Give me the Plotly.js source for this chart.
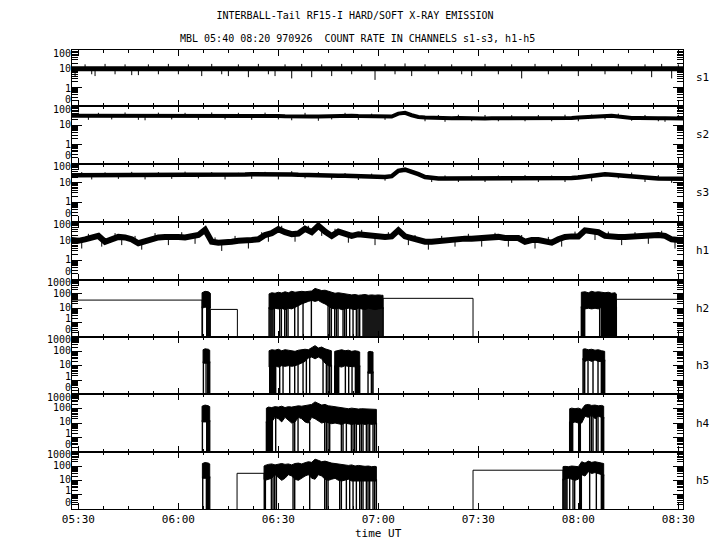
<!DOCTYPE html>
<html><head><meta charset="utf-8">
<script src="https://cdn.plot.ly/plotly-3.0.1.min.js"></script>
<style>html,body{margin:0;padding:0;background:#fff}</style>
</head><body>
<div id="chart" style="width:720px;height:550px"></div>
<script>
// ---------------- DATA (time in minutes after 05:30 UT) ----------------
const channels = ['s1','s2','s3','h1','h2','h3','h4','h5'];
const timeTicks = [0,30,60,90,120,150,180];
const timeLabels = ['05:30','06:00','06:30','07:00','07:30','08:00','08:30'];
const timeMinor = [7.5,15,22.5,37.5,45,52.5,67.5,75,82.5,97.5,105,112.5,127.5,135,142.5,157.5,165,172.5];
const sTickVals = [0.1,1,10,100];
const hTickVals = [0.1,1,10,100,1000];
const sTickText = ['0','1','10','100'];
const hTickText = ['0','1','10','100','1000'];

// 2-minute grid for the continuous channels
const T = [-2,0,2,4,6,8,10,12,14,16,
  18,20,22,24,26,28,30,32,34,36,
  38,40,42,44,46,48,50,52,54,56,
  58,60,62,64,66,68,70,72,74,76,
  78,80,82,84,86,88,90,92,94,96,
  98,100,102,104,106,108,110,112,114,116,
  118,120,122,124,126,128,130,132,134,136,
  138,140,142,144,146,148,150,152,154,156,
  158,160,162,164,166,168,170,172,174,176,
  178,180,182];

const s1 = [10,10,10,9.5,10,10,10.5,10,10,9.5,
  10,10,10,10.5,10,10,10,9.5,10,10,
  10.5,10,10,10,10,9.5,10,10,10,10.5,
  10,10,10,9.5,9.5,10,10,10.5,10,10,
  10,9.5,9.5,10,10.5,10,10,10,10,10,
  11,10.5,10,10,9.5,10,10,10,9.5,10,
  10,10,10,9.5,10,10,10,10,10.5,10,
  10,10,9.5,10,10,10,10,10,10.5,10.5,
  10,10,10,10,9.5,10,10,10,10,10,
  9.5,10,10];
const s1SpikeT = [-1,2,4,5,8,11,14,16,18,21,24,27,30,33,37,40,43,45,48,51,54,57,59,62,64,67,70,73,76,79,
  82,85,89,92,95,98,100,104,108,112,115,118,122,126,130,133,137,141,145,150,154,158,162,166,170,172,175,178,180];
const s1SpikeV = [4,17,5,4,18,5,17,4.5,4.5,17,5,18,5,17,4,18,5,4,17,3.5,18,5,4,17,3,18,3.5,17,4,18,
  5,17,2.5,18,5,19,4,17,5,17,5,4,18,5,17,3,18,5,17,4,18,5,18,5,17,3.5,18,3,17];

const s2 = [31,31,32,31,31,30,31,32,31,31,
  31,30,31,31,32,31,31,30,31,32,
  31,31,32,33,32,31,31,32,32,31,
  31,30,29,28,28,29,28,28,29,29,
  30,30,31,30,29,28,27,27,28,40,
  44,33,27,25,24,23,23,23,24,23,
  23,23,22,23,23,23,24,23,23,22,
  23,23,22,23,24,24,25,26,27,28,
  30,31,28,25,24,24,23,23,23,23,
  23,22,22];
const s2SpikeT = [0,3,6,10,14,18,20,24,28,32,36,40,44,48,52,56,60,64,68,72,76,80,84,88,92,100,104,108,110,114,
  118,122,126,130,134,138,142,146,150,154,158,162,166,170,174,176,180];
const s2SpikeV = [45,19,44,20,46,19,18,45,20,44,19,46,20,44,19,45,20,18,44,17,20,44,19,40,19,35,16,34,15,35,
  16,34,16,33,16,34,16,35,16,36,20,40,17,34,16,15,34];

const s3 = [25,25,24,25,25,24,25,25,24,25,
  24,24,25,24,24,25,25,25,25,26,
  25,25,26,26,26,26,27,28,28,30,
  30,29,28,27,26,25,25,25,24,24,
  23,23,22,21,21,20,20,20,22,42,
  48,38,28,20,18,17,17,17,17,17,
  17,17,17,17,17,16,17,17,17,17,
  17,17,17,17,17,18,19,21,24,27,
  28,26,25,24,23,22,20,18,17,17,
  17,17,16];
const s3SpikeT = [1,4,8,12,16,20,24,28,32,36,40,44,48,52,56,60,64,68,72,76,80,84,88,92,102,106,110,114,118,122,
  126,130,134,138,142,146,150,154,158,162,166,170,174,178];
const s3SpikeV = [36,15,35,16,37,15,36,16,38,17,36,15,33,16,37,15,40,17,36,15,32,14,30,13,25,11,24,11,25,11,
  24,10,25,11,24,11,25,12,36,17,34,11,25,10];

const h1 = [11,10,12,15,18,9,12,16,15,12,
  7.5,10,13,15,16,17,16,15,16,20,
  37,9,8,8,9,10,10,11,12,20,
  25,40,28,22,24,42,28,60,30,18,
  30,22,18,22,20,17,16,16,17,35,
  17,13,10,9,9,10,11,12,12,13,
  13,14,15,15,16,14,15,14,9,11,
  11,10,8,12,16,17,17,35,30,28,
  18,16,16,16,17,16,17,19,20,18,
  12,11,11];
const h1SpikeT = [1,3,7,11,13,17,19,23,27,31,35,41,43,47,51,55,57,61,65,69,73,77,81,85,89,93,99,101,105,109,
  113,117,121,125,129,133,137,141,145,149,155,159,163,167,171,175,179];
const h1SpikeV = [4,23,5,25,6,18,3.5,25,6,28,7,15,3,18,4,28,9,60,9,60,18,42,8,37,6,28,6,20,3.5,18,
  5,23,5,26,5,20,4,16,5,30,11,30,6,28,7,33,4];

// bursty channels: band envelope (null separates bursts), drop-outs to 0, flat gap segments
const h2BandT  = [37.1,38,39,39.6,null,
  57.2,58,59,60,61,62,63,64,65,66,67,68,69,70,71,72,73,74,75,76,77,78,79,80,81,82,83,84,85,86,87,88,89,90,91,91.4,null,
  150.9,152,153,154,155,156,157,158,159,160,161,161.4];
const h2BandHi = [120,150,140,110,null,
  100,120,110,130,115,140,120,150,130,140,150,140,150,160,240,200,170,180,150,130,110,120,110,100,90,85,90,80,85,90,80,85,80,85,80,80,null,
  130,140,120,150,130,140,130,120,130,110,120,100];
const h2BandLo = [10,12,10,10,null,
  9,8,10,9,10,8,10,9,12,15,20,25,30,35,30,35,25,20,15,10,9,10,8,9,10,9,8,10,9,8,10,9,8,9,10,9,null,
  10,9,10,9,10,9,12,10,9,10,10,10];
const h2Drop = [37.2,38.5,38.8,39.1,39.4,
  57.2,57.5,57.8,58.1,58.4,58.8,60.4,60.9,61.9,62.4,62.9,64.9,65.9,67.4,69.9,74.9,75.4,75.9,76.9,77.4,77.9,79.4,79.9,80.4,81.4,82.4,83.4,83.9,84.4,
  85.4,85.7,86,86.3,86.6,86.9,87.2,87.5,87.8,88.1,88.4,88.7,89,89.3,89.6,89.9,90.2,90.5,90.8,91.1,91.4,
  150.9,151.2,151.5,151.9,156.4,156.9,157.2,157.5,157.8,158.1,158.4,158.7,159,159.3,159.6,159.9,160.2,160.5,160.8,161.1,161.4];
const h2GapStart = [-2,39.6,91.4,161.4];
const h2GapEnd   = [37.1,47.7,118.4,182];
const h2GapVal   = [37,8.3,49,42];

const h3BandT  = [37.4,38,39,39.4,null,
  57.2,58,59,60,61,62,63,64,65,66,67,68,69,70,71,72,73,74,75,75.9,null,
  76.9,78,79,80,81,82,83,84,84.4,null,
  86.9,87.5,88,88.4,null,
  151.4,152,153,154,155,156,157,157.9];
const h3BandHi = [130,150,140,120,null,
  110,130,120,140,110,130,120,110,100,120,130,140,130,180,250,170,200,150,120,110,null,
  100,120,130,110,120,100,110,100,90,null,
  90,100,95,90,null,
  140,150,130,140,120,130,110,100];
const h3BandLo = [15,15,15,15,null,
  8,9,10,8,10,9,10,9,10,12,15,20,35,40,30,40,30,15,10,9,null,
  8,9,8,10,9,8,9,8,8,null,
  3,3,3,3,null,
  25,20,25,20,25,20,20,20];
const h3Drop = [37.5,38.3,38.8,39.1,39.4,
  57.4,57.7,58,58.3,58.6,58.9,59.2,60.4,61.4,63.4,64.9,65.9,67.4,68.4,69.4,73.4,74.4,74.9,75.4,75.9,
  76.9,77.2,77.5,77.8,78.1,80.1,81.1,82.1,83.1,83.4,83.7,84,84.4,
  86.9,87.9,88.1,88.4,
  151.4,151.7,151.9,152.9,154.4,155.9,156.9,157.2,157.5,157.9];
const h3GapStart = [], h3GapEnd = [], h3GapVal = [];

const h4BandT  = [37.1,38,39,39.4,null,
  56.4,57,58,59,60,61,62,63,64,65,66,67,68,69,70,71,72,73,74,75,76,77,78,79,80,81,82,83,84,85,86,87,88,89,89.4,null,
  147.4,148,149,150,151,152,153,154,155,156,157,157.6];
const h4BandHi = [150,180,160,140,null,
  110,130,120,140,130,150,120,140,130,150,160,150,170,180,200,300,220,180,200,160,150,140,130,120,110,100,110,100,95,100,100,95,90,95,90,null,
  100,110,100,110,90,180,200,170,180,160,170,150];
const h4BandLo = [12,13,12,12,null,
  10,9,12,25,20,12,25,15,10,12,25,20,12,10,25,20,15,10,12,10,9,10,9,8,10,9,8,9,8,9,8,9,8,9,8,null,
  10,10,12,10,10,30,25,35,20,30,25,20];
const h4Drop = [37.2,38.5,38.8,39.1,39.4,
  56.4,56.7,57,57.3,57.6,57.9,58.2,59.2,64.4,64.9,65.9,69.4,73.9,74.4,74.9,75.4,78.9,79.4,80.4,81.9,82.4,82.9,83.4,84.4,84.9,85.4,86.4,86.9,87.4,88.4,88.9,89.4,
  147.4,147.7,148,148.3,150.1,150.4,150.6,153.4,153.9,154.4,155.4,155.9,156.9,157.2,157.6];
const h4GapStart = [], h4GapEnd = [], h4GapVal = [];

const h5BandT  = [37.2,38,39,39.4,null,
  55.7,56,57,58,59,60,61,62,63,64,65,66,67,68,69,70,71,72,73,74,75,76,77,78,79,80,81,82,83,84,85,86,87,88,89,89.4,null,
  145.4,146,147,148,149,150,151,152,153,154,155,156,157,157.6];
const h5BandHi = [150,175,160,140,null,
  100,110,130,140,120,130,150,130,140,120,150,160,140,170,200,180,300,250,200,220,180,160,150,140,130,120,110,120,100,110,100,95,100,90,95,90,null,
  90,95,90,100,95,90,200,160,220,180,200,170,160,150];
const h5BandLo = [14,14,14,14,null,
  12,10,12,14,25,15,10,14,25,20,12,10,15,20,25,14,12,25,20,12,10,12,14,10,9,10,12,9,10,9,10,9,10,9,9,9,null,
  10,12,14,12,10,12,25,20,40,30,35,30,25,20];
const h5Drop = [37.3,38.4,38.7,39,39.4,
  55.9,56.1,57.9,58.4,58.9,59.4,64.4,64.9,69.4,73.9,74.4,74.9,78.4,78.9,80.4,81.4,82.4,83.4,84.4,84.9,85.4,86.4,86.9,87.4,88.4,88.9,89.4,
  145.4,145.7,146,146.3,146.6,147.4,148.4,148.9,150.4,150.6,150.9,153.4,155.4,156.9,157.2,157.6];
const h5GapStart = [47.6,118.4];
const h5GapEnd   = [55.7,145.4];
const h5GapVal   = [31,51];

// ---------------- DRAWING ----------------
const FONT = 'DejaVu Sans Mono, Liberation Mono, monospace';
const FLOOR = 0.1;               // value drawn for 0 (axis bottom, labelled "0")
const edges = [50,106,163.5,221.5,279.5,337,394.4,451.7,509]; // panel borders (px)
// label offsets from panel top (px), as placed in the original plot
const sLabelOffset = [49.5,38.3,18.8,3.4];
const hLabelOffset = [50.3,39,27.5,13.5,2.6];
const TOP = 50, BOT = 509, H = BOT - TOP;
const traces = [];
function ax(k){ return k===1 ? '' : String(k); }
function add(k, x, y, w, extra){
  traces.push(Object.assign({x:x, y:y, xaxis:'x'+ax(k), yaxis:'y'+ax(k), mode:'lines',
    line:{color:'black', width:w}, hoverinfo:'skip', showlegend:false}, extra||{}));
}
function nearest(ts, t){
  let best=-1, bd=1e9;
  ts.forEach(function(v,i){ if(v!==null && Math.abs(v-t)<bd){ bd=Math.abs(v-t); best=i; } });
  return best;
}
function noisy(k, vals, width, spT, spV){
  add(k, T, vals, width);
  const x=[], y=[];
  spT.forEach(function(t,i){ const j=nearest(T,t); x.push(t,t,null); y.push(vals[j], spV[i], null); });
  add(k, x, y, 1);
}
function bursty(k, bt, bhi, blo, drops, g0, g1, gv){
  const px=[], py=[]; let seg=[];
  function flush(){
    if(seg.length){
      seg.forEach(function(i){ px.push(bt[i]); py.push(bhi[i]); });
      seg.slice().reverse().forEach(function(i){ px.push(bt[i]); py.push(blo[i]); });
      px.push(bt[seg[0]]); py.push(bhi[seg[0]]); px.push(null); py.push(null);
    }
    seg=[];
  }
  bt.forEach(function(t,i){ if(t===null) flush(); else seg.push(i); });
  flush();
  add(k, px, py, 1, {fill:'toself', fillcolor:'black'});
  const dx=[], dy=[];
  drops.forEach(function(t){ const j=nearest(bt,t); dx.push(t,t,null); dy.push(FLOOR, blo[j]*1.3, null); });
  add(k, dx, dy, 1.4);
  const sx=[], sy=[];
  g0.forEach(function(t0,i){ sx.push(t0,t0,g1[i],g1[i],null); sy.push(FLOOR,gv[i],gv[i],FLOOR,null); });
  if(sx.length) add(k, sx, sy, 1);
}

noisy(1, s1, 5, s1SpikeT, s1SpikeV);
noisy(2, s2, 4, s2SpikeT, s2SpikeV);
noisy(3, s3, 4.5, s3SpikeT, s3SpikeV);
noisy(4, h1, 6, h1SpikeT, h1SpikeV);
bursty(5, h2BandT, h2BandHi, h2BandLo, h2Drop, h2GapStart, h2GapEnd, h2GapVal);
bursty(6, h3BandT, h3BandHi, h3BandLo, h3Drop, h3GapStart, h3GapEnd, h3GapVal);
bursty(7, h4BandT, h4BandHi, h4BandLo, h4Drop, h4GapStart, h4GapEnd, h4GapVal);
bursty(8, h5BandT, h5BandHi, h5BandLo, h5Drop, h5GapStart, h5GapEnd, h5GapVal);

function minorVals(maxDec){
  const out=[];
  [0.1,1,10,100].forEach(function(d){ if(d<maxDec) for(let m=2;m<=9;m++) out.push(m*d); });
  return out;
}
const TF = {family:FONT, size:11, color:'black'};
const LF = {family:FONT, size:10, color:'black'};
const layout = {
  width:720, height:550,
  margin:{l:72, r:37, t:TOP, b:550-BOT, pad:0},
  paper_bgcolor:'white', plot_bgcolor:'white', showlegend:false,
  font:{family:FONT, size:11, color:'black'},
  title:{text:'INTERBALL-Tail RF15-I HARD/SOFT X-RAY EMISSION', xref:'container', x:355/720, xanchor:'center',
    yref:'container', y:1-15/550, yanchor:'middle', font:{family:FONT, size:10, color:'black'}},
  annotations:[
    {text:'MBL 05:40 08:20 970926\u00A0\u00A0COUNT RATE IN CHANNELS s1-s3, h1-h5', xref:'paper', yref:'paper',
     x:(357-72)/611, y:(BOT-38)/H, xanchor:'center', yanchor:'middle', showarrow:false,
     font:{family:FONT, size:10, color:'black'}},
    {text:'time UT', xref:'paper', yref:'paper', x:(378-72)/611, y:(BOT-533)/H, xanchor:'center', yanchor:'middle',
     showarrow:false, font:TF}
  ]
};
const XR = [-1.92,181.4];
for(let k=1;k<=8;k++){
  const isH = k>=5;
  const d0 = (BOT-edges[k])/H, d1 = (BOT-edges[k-1])/H;
  const ph = edges[k]-edges[k-1];
  const yr = isH ? [-1,3] : [-1,2];
  const majors = isH ? hTickVals : sTickVals;
  const offs = isH ? hLabelOffset : sLabelOffset;
  layout['xaxis'+ax(k)] = {
    domain:[0,1], anchor:'y'+ax(k), range:XR, tickmode:'array', tickvals:timeTicks, ticktext:timeLabels,
    showticklabels:k===8, ticks:'inside', ticklen:6, tickwidth:1, tickcolor:'black',
    showline:true, linecolor:'black', linewidth:1, mirror:'ticks', showgrid:false, zeroline:false, tickfont:TF
  };
  layout['xaxis'+(8+k)] = {
    overlaying:'x'+ax(k), anchor:'y'+ax(k), range:XR, tickmode:'array', tickvals:timeMinor,
    showticklabels:false, ticks:'inside', ticklen:3, tickwidth:1, tickcolor:'black',
    showline:false, mirror:'ticks', showgrid:false, zeroline:false
  };
  layout['yaxis'+ax(k)] = {
    domain:[d0,d1], anchor:'x'+ax(k), type:'log', range:yr,
    tickmode:'array', tickvals:majors, showticklabels:false,
    ticks:'inside', ticklen:10, tickwidth:1, tickcolor:'black',
    showline:true, linecolor:'black', linewidth:1, mirror:'ticks', showgrid:false, zeroline:false
  };
  layout['yaxis'+(8+k)] = {
    overlaying:'y'+ax(k), anchor:'x'+ax(k), type:'log', range:yr,
    tickmode:'array', tickvals:minorVals(majors[majors.length-1]), showticklabels:false,
    ticks:'inside', ticklen:6, tickwidth:1, tickcolor:'black',
    showline:false, mirror:'ticks', showgrid:false, zeroline:false
  };
  layout['yaxis'+(16+k)] = {
    overlaying:'y'+ax(k), anchor:'x'+ax(k), type:'linear', range:[0,ph],
    tickmode:'array', tickvals:offs.map(function(o){ return ph-o; }), ticktext:isH ? hTickText : sTickText,
    ticks:'', showline:false, showgrid:false, zeroline:false, tickfont:LF
  };
  traces.push({x:[null], y:[null], xaxis:'x'+(8+k), yaxis:'y'+ax(k), mode:'lines', showlegend:false, hoverinfo:'skip'});
  traces.push({x:[null], y:[null], xaxis:'x'+ax(k), yaxis:'y'+(8+k), mode:'lines', showlegend:false, hoverinfo:'skip'});
  traces.push({x:[null], y:[null], xaxis:'x'+ax(k), yaxis:'y'+(16+k), mode:'lines', showlegend:false, hoverinfo:'skip'});
  layout.annotations.push({text:channels[k-1], xref:'paper', yref:'paper', x:1+(694-683)/611, y:(d0+d1)/2,
    xanchor:'left', yanchor:'middle', showarrow:false, font:TF});
}
Plotly.newPlot('chart', traces, layout, {staticPlot:true, displayModeBar:false});
</script>
</body></html>
